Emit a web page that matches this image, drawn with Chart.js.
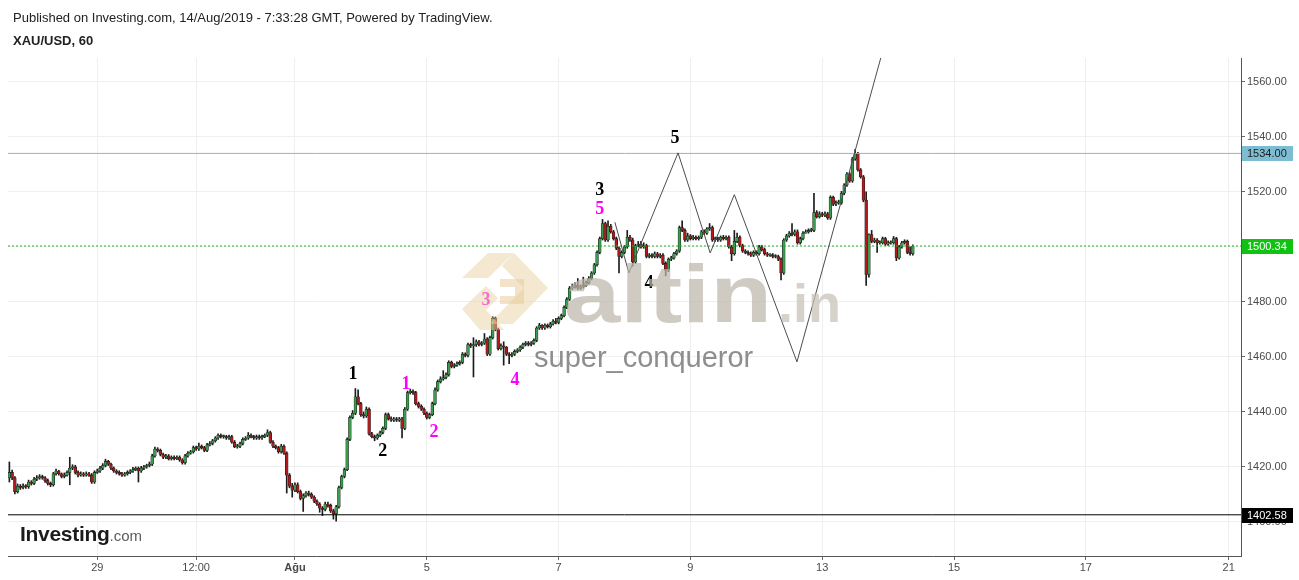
<!DOCTYPE html>
<html>
<head>
<meta charset="utf-8">
<script src="https://cdn.jsdelivr.net/npm/chart.js@4.4.1/dist/chart.umd.min.js"></script>
<style>
  body { margin: 0; background: #fff; font-family: "Liberation Sans", Arial, sans-serif; }
  #page { position: relative; width: 1299px; height: 580px; overflow: hidden; }
  #chartBox { position: absolute; left: 0; top: 0; width: 1299px; height: 580px; }
  #pub { position: absolute; left: 13px; top: 10px; font-size: 13px; color: #222; white-space: nowrap; }
  #sym { position: absolute; left: 13px; top: 33px; font-size: 13px; font-weight: bold; color: #222; }
  #inv { position: absolute; left: 20px; top: 522px; font-size: 21px; font-weight: bold; color: #1b1b1b; letter-spacing: -0.3px; }
  #inv span { font-size: 15px; font-weight: normal; color: #5c5c5c; letter-spacing: 0; }
</style>
</head>
<body>
<div id="page">
  <div id="chartBox"><canvas id="myChart" width="1299" height="580"></canvas></div>
  <div id="pub">Published on Investing.com, 14/Aug/2019 - 7:33:28 GMT, Powered by TradingView.</div>
  <div id="sym">XAU/USD, 60</div>
  <div id="inv">Investing<span>.com</span></div>
</div>
<script>
// hourly slots, weekends skipped (TradingView style)
var slotCount = 449;
var tickSlots = [32, 68, 104, 152, 200, 248, 296, 344, 392, 444];
var tickNames = ['29', '12:00', 'Ağu', '5', '7', '9', '13', '15', '17', '21'];
var priceTicks = [1400, 1420, 1440, 1460, 1480, 1500, 1520, 1540, 1560];

var opens = [
  1416, 1418, 1416, 1411, 1413, 1412.5, 1413, 1412.8, 1414.5, 1414,
  1415.5, 1416, 1416.5, 1416, 1415, 1414, 1413.5, 1417.5, 1418.5, 1417.5,
  1416.5, 1417, 1418, 1419.5, 1420, 1418, 1417, 1417.5, 1417, 1417.5,
  1417, 1414.5, 1418, 1418.5, 1419.5, 1420.5, 1422, 1421, 1419.5, 1418.5,
  1418, 1417.5, 1417, 1417.5, 1418, 1418.5, 1419, 1419.5, 1418.5, 1419.5,
  1420, 1420.5, 1421, 1424, 1426.5, 1426, 1424.5, 1423.5, 1424, 1423,
  1423.5, 1423, 1423.5, 1422.5, 1421.5, 1424, 1425, 1425.5, 1427, 1426.5,
  1427.5, 1427, 1426, 1428, 1428.5, 1429.5, 1430.5, 1431.5, 1431, 1431,
  1430.5, 1431, 1429, 1427.3, 1427.5, 1428.5, 1430, 1430.5, 1431.5, 1431,
  1430.5, 1431, 1430.5, 1431, 1431.5, 1432.5, 1429, 1427.5, 1427, 1425.5,
  1427.5, 1425, 1417, 1413, 1411.5, 1413.5, 1411, 1408.5, 1409.5, 1410.5,
  1410, 1409, 1407.5, 1406.5, 1405, 1404.5, 1406.5, 1406, 1404, 1403,
  1405.5, 1412.5, 1416.5, 1419, 1430, 1438, 1439.5, 1445.5, 1443, 1439,
  1438.5, 1441, 1432, 1431, 1430.5, 1431.5, 1432.5, 1434, 1439, 1437.5,
  1437, 1437.5, 1437, 1437.5, 1434, 1441, 1447, 1447.5, 1447, 1443,
  1442, 1441, 1439.5, 1438, 1439, 1443, 1448, 1451, 1452, 1452.5,
  1453.5, 1458, 1456.5, 1457, 1457.5, 1458, 1461, 1460.5, 1464.5, 1464,
  1464.5, 1465.5, 1464.5, 1465, 1466.5, 1461, 1467, 1474, 1470, 1463,
  1464, 1463.5, 1461, 1460.5, 1461, 1462, 1462.5, 1463.5, 1464.5, 1465,
  1464.5, 1465, 1466, 1470.5, 1471.5, 1470.5, 1471.5, 1471, 1472, 1473,
  1472.5, 1474, 1475, 1478, 1481, 1485, 1485.5, 1486, 1485, 1485.5,
  1486, 1487, 1488.5, 1490.5, 1493.5, 1498, 1503, 1508.5, 1502.5, 1507.5,
  1505.5, 1503, 1499.5, 1496.5, 1498, 1500, 1503.5, 1502.5, 1494.5, 1500.5,
  1501, 1500, 1500.5, 1496.5, 1497, 1496.5, 1497.5, 1496.5, 1497, 1494,
  1491.5, 1495.5, 1496, 1497.5, 1498.5, 1507, 1506, 1502.5, 1504, 1503,
  1503.5, 1503, 1503.5, 1505.5, 1505, 1506.5, 1507, 1502.5, 1503, 1502.5,
  1503.5, 1503, 1503.5, 1500, 1497.5, 1502, 1503.5, 1500.5, 1498.5, 1498,
  1497.5, 1497, 1498, 1497.5, 1500, 1499, 1497.5, 1497, 1497, 1496.5,
  1496.5, 1495.5, 1490.5, 1502.5, 1504, 1505, 1504.5, 1505.5, 1501.5, 1503,
  1505, 1505.5, 1506, 1506, 1512.5, 1511, 1512, 1511.5, 1512, 1510.5,
  1518, 1515.5, 1516, 1516, 1519.5, 1522.5, 1526.5, 1524, 1532, 1534,
  1528, 1525.5, 1517, 1490, 1504.5, 1502, 1502.5, 1501.5, 1501.5, 1503,
  1501, 1501.5, 1501.5, 1503, 1496, 1500, 1501.5, 1502, 1498, 1497.5
];
var highs = [
  1421.8, 1418.8, 1416.5, 1413.8, 1413.6, 1413.8, 1413.6, 1415.2, 1415, 1416.2,
  1416.8, 1417.2, 1417, 1416.5, 1415.6, 1414.5, 1418, 1419.2, 1418.8, 1417.8,
  1417.8, 1418.6, 1423.5, 1420.8, 1420.6, 1418.6, 1418.2, 1418, 1418.2, 1418,
  1417.6, 1418.6, 1419.2, 1420.2, 1421.2, 1422.8, 1422.4, 1421.4, 1420, 1419,
  1418.6, 1418, 1418, 1418.6, 1419, 1419.8, 1420, 1420, 1420.2, 1420.6,
  1421, 1421.8, 1424.6, 1427.2, 1427, 1426.5, 1425, 1424.6, 1424.5, 1424,
  1424, 1424, 1424, 1423, 1424.6, 1425.6, 1426, 1427.6, 1427.6, 1428.7,
  1428, 1427.5, 1428.6, 1429.2, 1430, 1431, 1432, 1432, 1431.6, 1431.5,
  1431.6, 1431.5, 1429.6, 1428.2, 1429, 1430.6, 1431, 1432.5, 1432, 1431.5,
  1431.6, 1431.6, 1431.6, 1432, 1433.5, 1433, 1429.6, 1428, 1427.5, 1428.2,
  1428, 1425.5, 1417.6, 1414, 1414.2, 1414.2, 1411.6, 1410.2, 1411, 1411.2,
  1410.6, 1409.5, 1408, 1407, 1405.6, 1407.2, 1407.2, 1406.5, 1404.6, 1406,
  1413, 1417, 1419.6, 1430.6, 1438.6, 1440.5, 1448.5, 1448, 1443.5, 1440,
  1441.8, 1441.5, 1432.6, 1431.6, 1432, 1433, 1434.6, 1439.6, 1439.6, 1438.2,
  1438, 1438, 1438, 1438, 1441.6, 1447.6, 1448.3, 1448, 1447.5, 1443.6,
  1442.6, 1441.5, 1440, 1439.6, 1443.6, 1448.8, 1451.6, 1452.8, 1455, 1454.2,
  1458.6, 1458.5, 1457.6, 1458.2, 1458.6, 1461.6, 1461.5, 1465, 1465, 1467,
  1466.2, 1466, 1465.6, 1468.5, 1467, 1467.6, 1474.6, 1474.5, 1470.5, 1464.8,
  1465.5, 1463.8, 1461.6, 1461.6, 1462.6, 1463, 1464, 1465, 1465.6, 1465.6,
  1465.6, 1466.6, 1471, 1472.2, 1471.8, 1472, 1472, 1472.6, 1473.6, 1474,
  1474.6, 1475.6, 1478.6, 1481.6, 1485.6, 1486.5, 1487, 1488.5, 1486.2, 1489,
  1487.6, 1489.2, 1491, 1494, 1498.6, 1503.6, 1510, 1509, 1509.5, 1508.2,
  1506, 1503.6, 1500, 1498.6, 1500.6, 1506, 1504.2, 1503.2, 1501, 1502,
  1502, 1501.5, 1501, 1497.6, 1497.6, 1498.2, 1498, 1497.6, 1497.6, 1494.6,
  1496, 1496.6, 1498, 1499, 1507.6, 1509.5, 1506.6, 1505, 1504.5, 1504.2,
  1504, 1504, 1506, 1506.2, 1507, 1508.5, 1507.6, 1503.6, 1503.6, 1504,
  1504.2, 1504, 1504, 1500.6, 1506, 1505, 1504, 1501, 1499, 1498.6,
  1498.2, 1498.6, 1498.6, 1500.6, 1500.6, 1499.6, 1498, 1497.6, 1497.6, 1497.2,
  1497, 1496, 1503, 1504.6, 1505.6, 1508.5, 1506.2, 1506.2, 1503.6, 1505.6,
  1506.2, 1506.6, 1506.8, 1519.5, 1513.2, 1512.8, 1512.6, 1512.8, 1512.6, 1518.6,
  1518.5, 1516.8, 1517, 1520.2, 1523, 1527, 1527, 1532.6, 1535.5, 1534.4,
  1528.5, 1526, 1520, 1504.8, 1506, 1503.2, 1503, 1502.2, 1503.6, 1503.5,
  1502.2, 1502.2, 1503.8, 1503.5, 1500.6, 1502, 1502.6, 1502.5, 1500, 1500.8
];
var lows = [
  1414.5, 1415.4, 1410.2, 1410.5, 1411.8, 1412, 1412.2, 1412.2, 1413.4, 1413.5,
  1415, 1415.5, 1415.5, 1414.4, 1413.4, 1412.8, 1413, 1417, 1417, 1416,
  1416, 1416.6, 1413.5, 1419, 1417.4, 1416.4, 1416.6, 1416.5, 1416.6, 1416.5,
  1414, 1414, 1417.6, 1418, 1419, 1420, 1420.5, 1419, 1418, 1417.4,
  1417, 1416.5, 1416.6, 1417, 1417.5, 1418, 1418.6, 1414.5, 1418, 1419,
  1419.5, 1420, 1420.5, 1423.5, 1425.4, 1424, 1423, 1423, 1422.5, 1422.5,
  1422.5, 1422.6, 1422, 1421, 1421, 1423.5, 1424.6, 1425, 1426, 1426,
  1426.5, 1425.5, 1425.5, 1427.6, 1428, 1429, 1430, 1430.5, 1430.4, 1430,
  1430, 1428.6, 1427, 1426.8, 1427, 1428, 1429.6, 1430, 1430.5, 1430,
  1430, 1430, 1430, 1430.6, 1431, 1428.6, 1427, 1426.5, 1425, 1425,
  1424.5, 1410.5, 1412.4, 1409, 1411, 1410.5, 1408, 1403.8, 1409, 1409.4,
  1408.5, 1407, 1406, 1403.5, 1402.3, 1404, 1405.4, 1403.4, 1401, 1400.3,
  1405, 1412, 1416, 1418.6, 1429.5, 1437.5, 1439, 1442.5, 1438.4, 1437.8,
  1438, 1431.5, 1430.5, 1429.5, 1430, 1431, 1432, 1433.5, 1437, 1436.5,
  1436.5, 1436.5, 1436.5, 1430.5, 1433.5, 1440.5, 1446.5, 1446.4, 1442.5, 1441.4,
  1440.5, 1439, 1437.4, 1437.5, 1438.6, 1442.5, 1447.5, 1450.5, 1451.5, 1452,
  1453, 1456, 1456, 1456.5, 1457, 1457.5, 1460, 1460, 1463.4, 1452.7,
  1463.8, 1464, 1464, 1464.5, 1460.5, 1460.5, 1466.5, 1469.5, 1462.5, 1462.5,
  1457, 1460.5, 1457.5, 1460, 1460.5, 1461.5, 1462, 1463, 1464, 1464,
  1464, 1464.5, 1465.5, 1470, 1470, 1470, 1470.5, 1470.5, 1471.5, 1472,
  1472, 1473.5, 1474.5, 1477.5, 1480.5, 1484.5, 1485, 1484.5, 1484.5, 1485,
  1485.5, 1486.5, 1488, 1490, 1493, 1497.5, 1502.5, 1502, 1502, 1505,
  1502.5, 1499, 1490.5, 1496, 1497.5, 1499.5, 1502, 1493, 1494, 1500,
  1499.5, 1499.5, 1496, 1496, 1496, 1496, 1496, 1496, 1493.5, 1489.5,
  1491, 1495, 1495.5, 1497, 1498, 1505.5, 1502, 1502, 1502.5, 1502.5,
  1502.5, 1502.5, 1503, 1504.5, 1504.5, 1506, 1502, 1502, 1502, 1502,
  1502.5, 1502.5, 1499.5, 1495, 1497, 1501.5, 1500, 1498, 1497.5, 1497,
  1496.5, 1496.5, 1497, 1497, 1498.5, 1497, 1496.5, 1496.5, 1496, 1496,
  1495, 1488, 1490, 1502, 1503.5, 1504, 1504, 1501, 1501, 1502.5,
  1505, 1505, 1505.5, 1505.5, 1510.5, 1510.5, 1511, 1511, 1510, 1510,
  1515, 1515, 1515.5, 1515.5, 1519, 1522, 1523.5, 1523.5, 1531.5, 1527.5,
  1525, 1516.4, 1486, 1489, 1501.5, 1501.5, 1498, 1501, 1501, 1500.5,
  1500.5, 1501, 1501, 1495, 1495.5, 1499.5, 1501, 1497.5, 1497, 1497
];
var closes = [
  1418, 1416, 1411, 1413, 1412.5, 1413, 1412.8, 1414.5, 1414, 1415.5,
  1416, 1416.5, 1416, 1415, 1414, 1413.5, 1417.5, 1418.5, 1417.5, 1416.5,
  1417, 1418, 1419.5, 1420, 1418, 1417, 1417.5, 1417, 1417.5, 1417,
  1414.5, 1418, 1418.5, 1419.5, 1420.5, 1422, 1421, 1419.5, 1418.5, 1418,
  1417.5, 1417, 1417.5, 1418, 1418.5, 1419, 1419.5, 1418.5, 1419.5, 1420,
  1420.5, 1421, 1424, 1426.5, 1426, 1424.5, 1423.5, 1424, 1423, 1423.5,
  1423, 1423.5, 1422.5, 1421.5, 1424, 1425, 1425.5, 1427, 1426.5, 1427.5,
  1427, 1426, 1428, 1428.5, 1429.5, 1430.5, 1431.5, 1431, 1431, 1430.5,
  1431, 1429, 1427.3, 1427.5, 1428.5, 1430, 1430.5, 1431.5, 1431, 1430.5,
  1431, 1430.5, 1431, 1431.5, 1432.5, 1429, 1427.5, 1427, 1425.5, 1427.5,
  1425, 1417, 1413, 1411.5, 1413.5, 1411, 1408.5, 1409.5, 1410.5, 1410,
  1409, 1407.5, 1406.5, 1405, 1404.5, 1406.5, 1406, 1404, 1403, 1405.5,
  1412.5, 1416.5, 1419, 1430, 1438, 1439.5, 1445.5, 1443, 1439, 1438.5,
  1441, 1432, 1431, 1430.5, 1431.5, 1432.5, 1434, 1439, 1437.5, 1437,
  1437.5, 1437, 1437.5, 1434, 1441, 1447, 1447.5, 1447, 1443, 1442,
  1441, 1439.5, 1438, 1439, 1443, 1448, 1451, 1452, 1452.5, 1453.5,
  1458, 1456.5, 1457, 1457.5, 1458, 1461, 1460.5, 1464.5, 1464, 1464.5,
  1465.5, 1464.5, 1465, 1466.5, 1461, 1467, 1474, 1470, 1463, 1464,
  1463.5, 1461, 1460.5, 1461, 1462, 1462.5, 1463.5, 1464.5, 1465, 1464.5,
  1465, 1466, 1470.5, 1471.5, 1470.5, 1471.5, 1471, 1472, 1473, 1472.5,
  1474, 1475, 1478, 1481, 1485, 1485.5, 1486, 1485, 1485.5, 1486,
  1487, 1488.5, 1490.5, 1493.5, 1498, 1503, 1508.5, 1502.5, 1507.5, 1505.5,
  1503, 1499.5, 1496.5, 1498, 1500, 1503.5, 1502.5, 1494.5, 1500.5, 1501,
  1500, 1500.5, 1496.5, 1497, 1496.5, 1497.5, 1496.5, 1497, 1494, 1491.5,
  1495.5, 1496, 1497.5, 1498.5, 1507, 1506, 1502.5, 1504, 1503, 1503.5,
  1503, 1503.5, 1505.5, 1505, 1506.5, 1507, 1502.5, 1503, 1502.5, 1503.5,
  1503, 1503.5, 1500, 1497.5, 1502, 1503.5, 1500.5, 1498.5, 1498, 1497.5,
  1497, 1498, 1497.5, 1500, 1499, 1497.5, 1497, 1497, 1496.5, 1496.5,
  1495.5, 1490.5, 1502.5, 1504, 1505, 1504.5, 1505.5, 1501.5, 1503, 1505,
  1505.5, 1506, 1506, 1512.5, 1511, 1512, 1511.5, 1512, 1510.5, 1518,
  1515.5, 1516, 1516, 1519.5, 1522.5, 1526.5, 1524, 1532, 1534, 1528,
  1525.5, 1517, 1490, 1504.5, 1502, 1502.5, 1501.5, 1501.5, 1503, 1501,
  1501.5, 1501.5, 1503, 1496, 1500, 1501.5, 1502, 1498, 1497.5, 1500.34
];

// horizontal levels
var levelPrices = [1534, 1500.34, 1402.58];
var levelColors = ['#7dbdd3', '#12c212', '#000000'];
var levelTextColors = ['#1d1d1d', '#ffffff', '#ffffff'];

// hand drawn wave path (slot, price)
var waveSlots = [220.5, 225.6, 243.5, 255.2, 264, 286.8, 317.4];
var wavePrices = [1509, 1490.5, 1534.2, 1497.8, 1519, 1458.2, 1569];

// wave count labels
var countText = ['1', '2', '1', '2', '3', '4', '3', '5', '4', '5'];
var countSlots = [125.1, 136, 144.4, 154.6, 173.6, 184.1, 215, 215, 232.9, 242.4];
var countPrices = [1453.8, 1425.5, 1450.2, 1432.4, 1480.4, 1451.3, 1520.4, 1513.8, 1486.9, 1539.6];
var countColors = ['#000', '#000', '#f0f', '#f0f', '#f0f', '#f0f', '#000', '#f0f', '#000', '#000'];

var UP = '#3a9c4c', DOWN = '#b3191b', EDGE = '#1c1c1c';

var wickData = [], bodyData = [], bodyColors = [];
for (var i = 0; i < closes.length; i++) {
    wickData.push({x: i, y: [lows[i], highs[i]]});
    bodyData.push({x: i, y: [opens[i], closes[i]]});
    bodyColors.push(closes[i] >= opens[i] ? UP : DOWN);
}

var levelSets = levelPrices.map(function(p, k) {
    return {
        type: 'line',
        data: [{x: -0.5, y: p}, {x: slotCount - 0.5, y: p}],
        borderColor: levelColors[k],
        borderWidth: 1,
        borderDash: k === 1 ? [2, 2] : [],
        pointRadius: 0,
        order: 1
    };
});

var waveSet = {
    type: 'line',
    data: waveSlots.map(function(s, k) { return {x: s, y: wavePrices[k]}; }),
    borderColor: '#4d4d4d',
    borderWidth: 1,
    pointRadius: 0,
    tension: 0,
    order: 0
};

function poly(c, pts) {
    c.beginPath();
    c.moveTo(pts[0], pts[1]);
    for (var j = 2; j < pts.length; j += 2) c.lineTo(pts[j], pts[j + 1]);
    c.closePath();
    c.fill();
}

var overlay = {
    id: 'overlay',
    afterDatasetsDraw: function(chart) {
        var c = chart.ctx, xs = chart.scales.x, ys = chart.scales.y;
        c.save();
        // wave numbers
        c.font = 'bold 18px "Liberation Serif", "Times New Roman", serif';
        c.textAlign = 'center';
        c.textBaseline = 'middle';
        for (var k = 0; k < countText.length; k++) {
            c.fillStyle = countColors[k];
            c.fillText(countText[k], xs.getPixelForValue(countSlots[k]), ys.getPixelForValue(countPrices[k]));
        }
        // altin.in watermark logo
        c.globalAlpha = 0.5;
        c.fillStyle = '#ecd2a2';
        poly(c, [462, 278, 488, 253, 514, 253, 488, 278]);
        poly(c, [514, 253, 548, 288, 513, 324, 489, 324, 524, 288, 502, 266]);
        poly(c, [462, 309, 486, 286, 498, 298, 486, 310, 504, 330, 480, 330]);
        c.fillStyle = '#e8ca94';
        poly(c, [500, 279, 524, 279, 524, 304, 500, 304, 500, 296, 515, 296, 515, 287, 500, 287]);
        c.globalAlpha = 0.72;
        c.fillStyle = '#bdb6ab';
        c.textAlign = 'left';
        c.textBaseline = 'alphabetic';
        c.font = 'bold 82px "Liberation Sans", Arial, sans-serif';
        var w = c.measureText('altin').width;
        c.save();
        c.translate(564, 322);
        c.scale(208 / w, 1);
        c.fillText('altin', 0, 0);
        c.restore();
        c.fillStyle = '#c6c0b6';
        c.font = 'bold 54px "Liberation Sans", Arial, sans-serif';
        c.fillText('.in', 778, 322);
        c.globalAlpha = 0.85;
        c.fillStyle = '#7a7a7a';
        c.font = '29px "Liberation Sans", Arial, sans-serif';
        c.fillText('super_conqueror', 534, 367);
        c.restore();
    },
    afterDraw: function(chart) {
        var c = chart.ctx, ys = chart.scales.y, a = chart.chartArea;
        c.save();
        c.font = '11px "Liberation Sans", Arial, sans-serif';
        c.textBaseline = 'middle';
        c.textAlign = 'left';
        for (var k = 0; k < levelPrices.length; k++) {
            var y = Math.round(ys.getPixelForValue(levelPrices[k]));
            c.fillStyle = levelColors[k];
            c.fillRect(a.right + 1, y - 7, 51, 15);
            c.fillStyle = levelTextColors[k];
            c.fillText(levelPrices[k].toFixed(2), a.right + 6, y + 0.5);
        }
        c.restore();
    }
};

var ctx = document.getElementById('myChart').getContext('2d');
var myChart = new Chart(ctx, {
    type: 'bar',
    data: {
        datasets: [{
            label: 'wick',
            data: wickData,
            backgroundColor: EDGE,
            barThickness: 1,
            grouped: false,
            order: 5
        }, {
            label: 'body',
            data: bodyData,
            backgroundColor: bodyColors,
            borderColor: EDGE,
            borderWidth: 0.6,
            borderSkipped: false,
            barThickness: 2.8,
            minBarLength: 1,
            grouped: false,
            order: 4
        }].concat(levelSets, [waveSet])
    },
    options: {
        responsive: false,
        animation: false,
        events: [],
        layout: { padding: { left: 8, top: 58, right: 0, bottom: 0 } },
        plugins: { legend: { display: false }, tooltip: { enabled: false } },
        scales: {
            x: {
                type: 'linear',
                min: -0.5,
                max: slotCount - 0.5,
                offset: false,
                afterBuildTicks: function(axis) {
                    axis.ticks = tickSlots.map(function(v) { return {value: v}; });
                },
                afterFit: function(axis) { axis.height = 24; },
                ticks: {
                    autoSkip: false,
                    maxRotation: 0,
                    padding: 1,
                    color: '#4a4a4a',
                    font: function(c) {
                        var bold = c.tick && c.tick.value === 104;
                        return { family: '"Liberation Sans", Arial, sans-serif', size: 11, weight: bold ? 'bold' : 'normal' };
                    },
                    callback: function(v) { return tickNames[tickSlots.indexOf(v)]; }
                },
                grid: { offset: false, color: '#efefef', tickColor: '#666', tickLength: 4 },
                border: { color: '#555' }
            },
            y: {
                position: 'right',
                min: 1387.6,
                max: 1568.7,
                afterBuildTicks: function(axis) {
                    axis.ticks = priceTicks.map(function(v) { return {value: v}; });
                },
                afterFit: function(axis) { axis.width = 58; },
                ticks: {
                    padding: 2,
                    color: '#4a4a4a',
                    font: { family: '"Liberation Sans", Arial, sans-serif', size: 11 },
                    callback: function(v) { return v.toFixed(2); }
                },
                grid: { color: '#efefef', tickColor: '#666', tickLength: 4 },
                border: { color: '#555' }
            }
        }
    },
    plugins: [overlay]
});
</script>
</body>
</html>
